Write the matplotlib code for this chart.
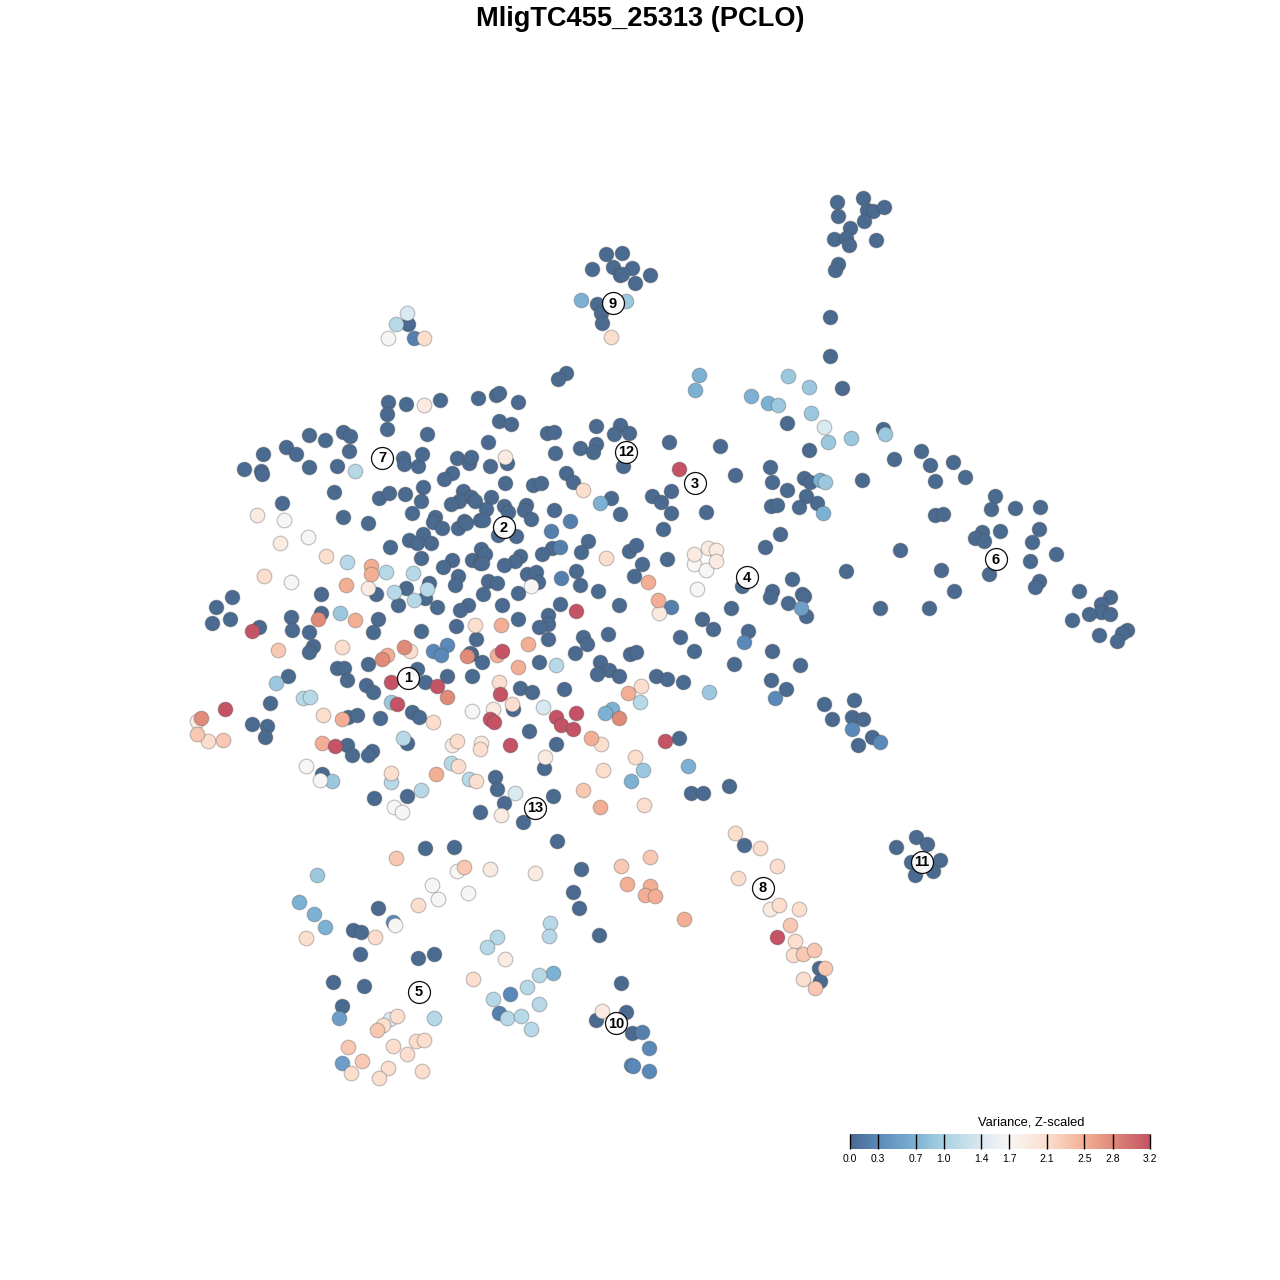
"""
plot.py
t-SNE style scatter of cells coloured by scaled variance.
"""

import numpy as np
import matplotlib
matplotlib.use('Agg')
import matplotlib.pyplot as plt
from matplotlib.colors import LinearSegmentedColormap

plt.rcParams['font.family'] = ['Liberation Sans', 'DejaVu Sans']

# cell positions grouped by variance value
var_00 = [
    (863,198),(837,202),(867,210),(873,211),(884,207),(838,216),(864,221),(850,228),(834,239),(846,238),
    (849,245),(876,240),(838,264),(835,270),(830,317),(830,356),(842,388),
    (606,254),(622,253),(592,269),(613,267),(632,268),(620,275),(622,274),(650,275),(635,283),(597,304),
    (601,313),(602,323),(408,324),(566,373),(558,379),
    (787,423),(883,429),(809,450),(894,459),(921,451),(930,465),(953,462),(965,477),(935,481),(862,480),
    (804,478),(810,482),(770,467),(772,482),(787,490),(735,475),(720,446),(669,442),(806,496),(817,503),
    (799,507),(771,506),(777,505),(780,534),(765,547),(846,571),(900,550),(941,570),(954,591),(929,608),(880,608),
    (995,496),(1015,508),(1040,507),(991,509),(935,515),(943,514),(982,532),(1000,531),(975,538),(984,541),
    (1039,529),(1032,542),(1056,554),(1030,561),(989,574),(1039,581),(1035,587),(1079,591),(1110,597),(1101,604),
    (1101,612),(1089,614),(1110,614),(1072,620),(1099,635),(1127,630),(1122,633),(1117,641),
    (792,579),(772,591),(770,597),(802,594),(804,596),(788,603),(806,616),(731,608),(702,619),(713,629),
    (748,631),(772,651),(734,664),(800,665),(771,680),(786,689),(742,586),
    (824,704),(854,700),(832,719),(852,717),(863,719),(872,737),(858,745),
    (916,837),(927,844),(896,847),(911,862),(940,860),(933,871),(915,875),(922,862),
    (388,402),(406,404),(440,400),(387,414),(387,429),(427,434),(309,435),(325,440),(343,432),(350,436),
    (349,451),(286,447),(296,454),(263,454),(244,469),(261,471),(262,474),(309,467),(337,466),
    (403,458),(404,464),(418,466),(422,454),(457,458),(469,463),(471,457),(452,473),(444,479),
    (334,492),(379,498),(389,493),(405,494),(423,487),(421,501),(463,491),(471,497),(459,501),(451,504),
    (475,501),(282,503),(412,513),(435,517),(433,522),(442,528),(458,528),(464,521),(466,523),(343,517),
    (368,523),(480,520),(376,594),(406,588),(429,583),(425,598),(398,605),(437,607),
    (390,547),(409,540),(423,534),(417,543),(431,543),(421,558),(452,560),(443,567),(472,560),(458,576),
    (455,585),(468,605),(460,610),(480,563),(321,594),(232,597),(216,607),(230,619),(212,623),(259,627),
    (291,617),(321,613),(378,619),(373,632),(292,630),(309,632),(313,646),(309,652),(421,631),(456,626),
    (476,639),(471,654),(368,664),(337,668),(344,668),(347,680),(288,676),(417,669),(447,676),(472,676),
    (478,398),(496,395),(499,393),(518,402),(499,421),(511,424),(488,442),(547,433),(554,432),(596,426),
    (620,425),(629,433),(614,434),(555,453),(580,448),(596,444),(593,452),(490,466),(507,463),(623,466),
    (566,473),(573,482),(505,483),(533,485),(541,483),(491,497),(486,509),(504,506),(508,512),(526,505),
    (524,510),(531,519),(554,510),(611,498),(620,514),(652,496),(661,502),(671,491),(671,513),(706,512),
    (663,529),(483,520),(498,535),(516,536),(588,541),(581,552),(552,548),(542,554),(520,556),(515,561),
    (504,565),(481,549),(485,554),(482,563),(488,581),(497,583),(483,594),(518,593),(527,574),(536,572),
    (538,582),(576,571),(580,585),(598,591),(629,551),(636,545),(642,564),(634,576),(667,559),(619,605),
    (560,604),(548,615),(548,624),(539,627),(518,619),(502,605),(470,653),(482,662),(539,662),(548,639),
    (583,637),(587,644),(575,653),(608,634),(630,654),(636,652),(680,637),(694,651),
    (600,662),(609,670),(597,674),(619,676),(656,676),(667,679),(683,682),
    (270,703),(252,724),(267,726),(265,737),(348,717),(357,715),(380,718),(347,745),(352,755),(372,751),
    (368,755),(366,685),(373,692),(412,712),(419,717),(425,682),(407,743),(322,774),(407,796),(374,798),
    (480,812),(425,848),(454,847),(520,688),(532,692),(564,689),(513,709),(529,731),(556,744),(544,768),
    (495,777),(497,789),(504,803),(553,796),(523,822),(557,841),(679,738),(691,793),(703,793),(729,786),
    (744,845),(819,968),(820,981),(581,869),(573,892),(579,908),(599,935),(378,908),(353,930),(361,932),
    (360,954),(418,958),(434,954),(333,982),(364,986),(342,1006),(621,983),(626,1012),(596,1020),(632,1033),
]
var_02 = [(570,521),(551,531),(560,547),(561,578),(671,607),(499,1013),(642,1032),(414,338)]
var_03 = [(744,642),(775,698),(852,729),(880,742),(447,645),(433,651),(441,655),(510,994),(649,1048),(631,1065),
          (633,1066),(649,1071),(393,922)]
var_05 = [(801,608),(339,1018),(342,1063)]
var_07 = [(581,300),(699,375),(695,390),(751,396),(768,403),(820,480),(823,513),(600,503),(612,709),(605,713),
          (688,766),(631,781),(299,902),(314,914),(325,927),(553,973)]
var_09 = [(626,301),(788,376),(809,387),(778,405),(811,413),(828,442),(851,438),(885,434),(825,482),(709,692),
          (643,770),(340,613),(276,683),(332,781),(317,875),(391,702)]
var_11 = [(396,324),(355,471),(347,562),(386,572),(413,573),(394,592),(414,600),(556,665),(303,698),(310,697),
          (403,738),(391,782),(640,702),(451,763),(469,779),(550,923),(549,936),(497,937),(487,947),(539,975),
          (527,987),(493,999),(539,1004),(507,1018),(521,1016),(531,1029),(434,1018),(427,589),(421,790)]
var_14 = [(407,313),(543,707),(824,427),(515,793),(390,1019)]
var_17 = [(388,338),(284,520),(308,537),(291,582),(531,586),(694,564),(706,570),(697,589),(472,711),(306,766),
          (320,780),(394,807),(402,812),(457,871),(432,885),(438,899),(468,893),(395,925)]
var_19 = [(424,405),(257,515),(280,543),(368,588),(505,457),(694,554),(708,548),(716,550),(716,561),(659,613),
          (452,745),(481,743),(545,757),(501,815),(493,709),(535,873),(490,869),(197,721),(602,1011),(770,909),(505,959)]
var_21 = [(611,337),(424,338),(583,490),(264,576),(326,556),(606,558),(475,625),(342,647),(410,651),(323,715),
          (433,722),(480,749),(457,741),(458,766),(476,781),(391,773),(499,682),(512,704),(641,686),(601,744),
          (635,757),(603,770),(644,805),(735,833),(760,848),(777,866),(738,878),(779,905),(799,909),(795,941),
          (793,955),(803,979),(375,937),(306,938),(473,979),(397,1016),(383,1025),(393,1046),(416,1041),(424,1040),
          (407,1054),(351,1073),(388,1068),(379,1078),(422,1071),(208,741),(418,905)]
var_23 = [(278,650),(396,858),(650,857),(621,866),(790,925),(803,954),(814,950),(825,968),(815,988),(464,867),
          (197,734),(223,740),(583,790),(348,1047),(362,1061),(377,1030)]
var_25 = [(371,566),(371,574),(346,585),(355,620),(648,582),(658,600),(501,625),(497,655),(528,644),(518,667),
          (387,655),(342,719),(322,743),(628,693),(591,738),(436,774),(600,807),(627,884),(650,886),(645,895),
          (655,896),(684,919)]
var_28 = [(318,619),(201,718),(382,659),(404,647),(467,656),(619,718),(447,697)]
var_32 = [(252,631),(225,709),(391,682),(397,704),(437,686),(502,651),(500,694),(490,719),(494,722),(510,745),
          (556,717),(576,713),(561,725),(573,729),(665,741),(335,746),(576,611),(679,469),(777,937)]

var_levels = [0.0, 0.2, 0.3, 0.5, 0.7, 0.9, 1.1, 1.4, 1.7, 1.9, 2.1, 2.3, 2.5, 2.8, 3.2]
var_groups = [var_00, var_02, var_03, var_05, var_07, var_09, var_11, var_14, var_17, var_19, var_21, var_23,
              var_25, var_28, var_32]

# numbered cluster labels
cluster_names = ['1', '2', '3', '4', '5', '6', '7', '8', '9', '10', '11', '12', '13']
cluster_x = [408, 504, 695, 747, 419, 996, 382, 763, 613, 616, 922, 626, 535]
cluster_y = [678, 527, 483, 577, 992, 559, 458, 888, 303, 1023, 862, 452, 808]

legend_ticks = [0.0, 0.3, 0.7, 1.0, 1.4, 1.7, 2.1, 2.5, 2.8, 3.2]

cmap = LinearSegmentedColormap.from_list('variance', [
    (0.0, '#4a6a90'),
    (0.3 / 3.2, '#5b8abb'),
    (0.7 / 3.2, '#7db2d4'),
    (1.0 / 3.2, '#a9d2e3'),
    (1.4 / 3.2, '#dbe8f1'),
    (1.7 / 3.2, '#f8f6f5'),
    (2.1 / 3.2, '#fcdfcf'),
    (2.5 / 3.2, '#f4b096'),
    (2.8 / 3.2, '#e08b7a'),
    (1.0, '#c35365'),
])

fig = plt.figure(figsize=(12.8, 12.8), dpi=100)
ax = fig.add_axes([0, 0, 1, 1])
ax.set_xlim(0, 1280)
ax.set_ylim(1280, 0)
ax.axis('off')

for value, pts in zip(var_levels, var_groups):
    xs, ys = zip(*pts)
    ax.scatter(xs, ys, s=112, color=cmap(value / 3.2), edgecolors=(0.3, 0.3, 0.3, 0.35), linewidths=0.8)

for name, cx, cy in zip(cluster_names, cluster_x, cluster_y):
    ax.scatter(cx, cy, s=250, color='white', edgecolors='black', linewidths=0.9, alpha=0.95, zorder=5)
    ax.text(cx, cy + 0.5, name, ha='center', va='center', fontsize=10.5, fontweight='bold', zorder=6)

ax.text(640.5, 19.5, 'MligTC455_25313 (PCLO)', ha='center', va='center', fontsize=19.6, fontweight='bold')

# colour bar
gradient = np.linspace(0, 1, 512).reshape(1, -1)
ax.imshow(gradient, cmap=cmap, extent=(850, 1150, 1149, 1134), aspect='auto', zorder=3)
ax.set_xlim(0, 1280)
ax.set_ylim(1280, 0)
for tick in legend_ticks:
    tick_x = 850 + tick / 3.2 * 300
    ax.plot([tick_x, tick_x], [1134, 1149], color='black', lw=1, zorder=4, solid_capstyle='butt')
    ax.text(tick_x, 1159.5, f'{tick:.1f}', ha='center', va='center', fontsize=7.5)
ax.text(1031, 1122.5, 'Variance, Z-scaled', ha='center', va='center', fontsize=9.3)

fig.savefig('out.png', dpi=100)
plt.close(fig)
